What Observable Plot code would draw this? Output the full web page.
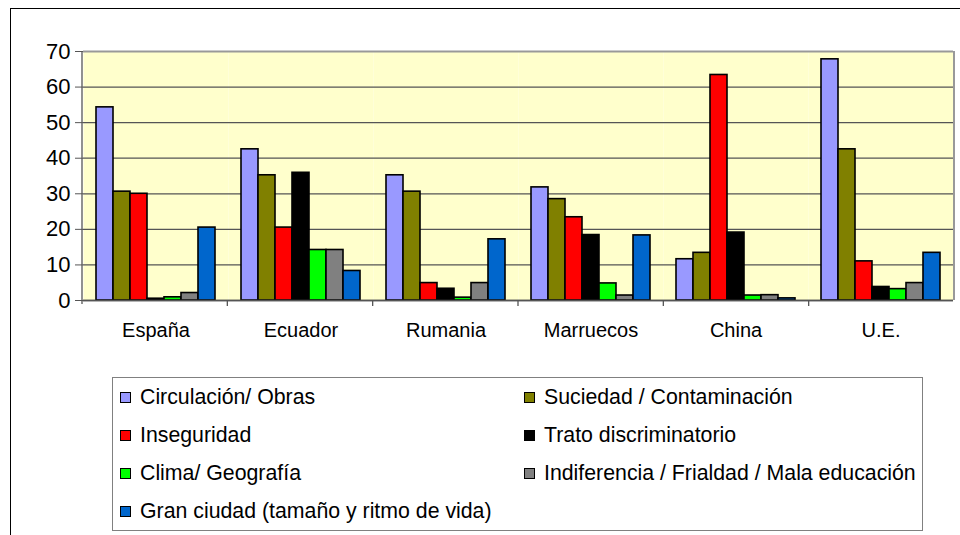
<!DOCTYPE html>
<html><head><meta charset="utf-8">
<script src="https://cdn.jsdelivr.net/npm/d3@7"></script>
<script src="https://cdn.jsdelivr.net/npm/@observablehq/plot@0.6"></script>
<style>
html,body{margin:0;padding:0;background:#fff;overflow:hidden}
#wrap{position:relative;width:960px;height:535px;overflow:hidden;font-family:"Liberation Sans",Arial,sans-serif}
#btop{position:absolute;left:10px;top:8px;width:950px;height:1px;background:#000;z-index:5}
#bleft{position:absolute;left:10px;top:8px;width:1px;height:527px;background:#000;z-index:5}
#chart{position:absolute;left:0;top:0}
#legend{position:absolute;left:112px;top:377px;width:811px;height:154px;border:1px solid #808080;box-sizing:border-box;background:#fff;display:grid;grid-template-columns:404px auto;grid-auto-rows:38px;padding-left:7px}
.item{display:flex;align-items:center;font-size:21.3px;color:#000;white-space:nowrap}
.sw{width:11px;height:11px;border:1.5px solid #000;box-sizing:border-box;margin-right:9px;flex:none}
</style></head><body>
<div id="wrap"><div id="chart"></div><div id="legend"></div><div id="btop"></div><div id="bleft"></div></div>
<script>
const countries = ["España", "Ecuador", "Rumania", "Marruecos", "China", "U.E."];
const seriesNames = [
  "Circulación/ Obras",
  "Suciedad / Contaminación",
  "Inseguridad",
  "Trato discriminatorio",
  "Clima/ Geografía",
  "Indiferencia / Frialdad / Mala educación",
  "Gran ciudad (tamaño y ritmo de vida)"
];
const circulacionObras      = [54.3, 42.5, 35.2, 31.8, 11.6, 67.8];
const suciedadContaminacion = [30.6, 35.2, 30.6, 28.5, 13.4, 42.5];
const inseguridad           = [30.0, 20.5, 4.9, 23.4, 63.4, 11.0];
const tratoDiscriminatorio  = [0.5, 35.9, 3.3, 18.4, 19.1, 3.8];
const climaGeografia        = [0.9, 14.2, 0.8, 4.8, 1.4, 3.2];
const indiferencia          = [2.1, 14.2, 4.9, 1.4, 1.5, 4.9];
const granCiudad            = [20.5, 8.3, 17.2, 18.3, 0.6, 13.4];
const seriesColors = ["#9999FF", "#808000", "#FF0000", "#000000", "#00FF00", "#808080", "#0066CC"];
const yTicks = [0, 10, 20, 30, 40, 50, 60, 70];

const seriesValues = [circulacionObras, suciedadContaminacion, inseguridad, tratoDiscriminatorio, climaGeografia, indiferencia, granCiudad];
const data = countries.flatMap((c, i) => seriesNames.map((s, j) => ({country: c, series: s, value: seriesValues[j][i]})));

const chart = Plot.plot({
  width: 960,
  height: 350,
  marginLeft: 82,
  marginRight: 6,
  marginTop: 51,
  marginBottom: 50,
  style: {fontFamily: '"Liberation Sans", Arial, sans-serif', background: "transparent", color: "#000"},
  fx: {domain: countries, paddingInner: 0, paddingOuter: 0, label: null},
  x: {domain: seriesNames, paddingInner: 0, paddingOuter: 0.76, axis: null},
  y: {domain: [0, 70], label: null},
  color: {domain: seriesNames, range: seriesColors},
  marks: [
    Plot.frame({fill: "#FFFFCC"}),
    Plot.gridY(yTicks.filter(d => d < 70), {stroke: "#555", strokeOpacity: 1, strokeWidth: 1.3}),
    Plot.ruleY([70], {stroke: "#999", strokeWidth: 2}),
    Plot.barY(data, {fx: "country", x: "series", y: "value", fill: "series", stroke: "#000", strokeWidth: 1.6, inset: 0}),
    Plot.ruleY([0], {stroke: "#555", strokeWidth: 1.3}),
    Plot.axisY(yTicks, {tickSize: 8, tickPadding: 5, fontSize: 22, label: null, stroke: "#555"}),
    Plot.axisFx({anchor: "bottom", tickSize: 0, tickPadding: 22, fontSize: 20, label: null})
  ]
});
document.getElementById("chart").appendChild(chart);

// frame lines derived from the plot's own scales
const fxS = chart.scale("fx");
const yS = chart.scale("y");
const x0 = Math.min(...fxS.range), x1 = Math.max(...fxS.range);
const step = (x1 - x0) / countries.length;
const yBot = Math.max(...yS.range), yTop = Math.min(...yS.range);
const svg = d3.select(chart);
svg.append("line").attr("x1", x1).attr("x2", x1).attr("y1", yTop).attr("y2", yBot)
  .attr("stroke", "#999").attr("stroke-width", 2);
svg.append("line").attr("x1", x0).attr("x2", x0).attr("y1", yTop).attr("y2", yBot + 4)
  .attr("stroke", "#555").attr("stroke-width", 1.3);
svg.append("g").selectAll("line").data(d3.range(1, countries.length)).join("line")
  .attr("x1", i => x0 + i * step).attr("x2", i => x0 + i * step)
  .attr("y1", yBot).attr("y2", yBot + 6)
  .attr("stroke", "#555").attr("stroke-width", 1.3);

// legend
const legend = d3.select("#legend");
seriesNames.forEach((s, j) => {
  const it = legend.append("div").attr("class", "item");
  it.append("div").attr("class", "sw").style("background", seriesColors[j]);
  it.append("span").text(s);
});
</script>
</body></html>
